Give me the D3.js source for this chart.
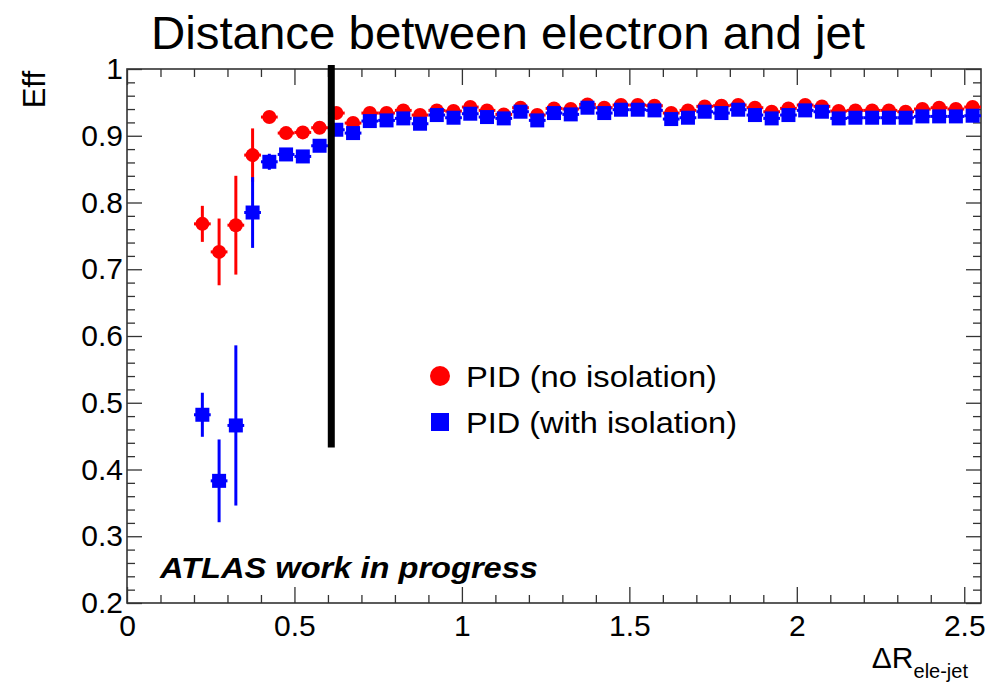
<!DOCTYPE html>
<html>
<head>
<meta charset="utf-8">
<script src="https://cdn.jsdelivr.net/npm/d3@7"></script>
<style>
  html, body { margin: 0; padding: 0; background: #fff; }
  svg { display: block; font-family: "Liberation Sans", Arial, Helvetica, sans-serif; }
</style>
</head>
<body>
<svg id="chart" width="986" height="685"></svg>
<script>
// Bin centres in ΔR(ele-jet)
const dR = [0.225, 0.275, 0.325, 0.375, 0.425, 0.475, 0.525, 0.575, 0.625, 0.675,
            0.725, 0.775, 0.825, 0.875, 0.925, 0.975, 1.025, 1.075, 1.125, 1.175,
            1.225, 1.275, 1.325, 1.375, 1.425, 1.475, 1.525, 1.575, 1.625, 1.675,
            1.725, 1.775, 1.825, 1.875, 1.925, 1.975, 2.025, 2.075, 2.125, 2.175,
            2.225, 2.275, 2.325, 2.375, 2.425, 2.475, 2.525];
const binHalfWidth = 0.025;

// PID efficiency without isolation
const effNoIso = [0.768, 0.726, 0.766, 0.871, 0.928, 0.904, 0.905, 0.912, 0.934, 0.919,
                  0.934, 0.934, 0.938, 0.931, 0.938, 0.937, 0.943, 0.938, 0.932, 0.942,
                  0.931, 0.941, 0.940, 0.947, 0.942, 0.946, 0.946, 0.945, 0.934, 0.938,
                  0.944, 0.945, 0.946, 0.942, 0.936, 0.941, 0.946, 0.944, 0.937, 0.938,
                  0.938, 0.938, 0.936, 0.940, 0.942, 0.940, 0.943];
const errNoIso = [0.027, 0.050, 0.074, 0.040, 0.008, 0.007, 0.007, 0.006, 0.006, 0.005,
                  0.005, 0.005, 0.004, 0.004, 0.004, 0.004, 0.004, 0.004, 0.004, 0.004,
                  0.004, 0.004, 0.004, 0.004, 0.004, 0.004, 0.004, 0.004, 0.004, 0.004,
                  0.004, 0.004, 0.004, 0.004, 0.004, 0.004, 0.004, 0.004, 0.004, 0.004,
                  0.004, 0.004, 0.004, 0.004, 0.004, 0.004, 0.004];

// PID efficiency with isolation
const effWithIso = [0.482, 0.383, 0.466, 0.785, 0.861, 0.872, 0.869, 0.885, 0.909, 0.904,
                    0.922, 0.923, 0.926, 0.918, 0.931, 0.927, 0.933, 0.928, 0.926, 0.936,
                    0.923, 0.934, 0.932, 0.942, 0.934, 0.939, 0.939, 0.938, 0.925, 0.927,
                    0.936, 0.934, 0.939, 0.931, 0.926, 0.931, 0.938, 0.936, 0.926, 0.927,
                    0.927, 0.927, 0.927, 0.929, 0.929, 0.929, 0.930];
const errWithIso = [0.033, 0.062, 0.120, 0.053, 0.012, 0.008, 0.008, 0.007, 0.006, 0.005,
                    0.005, 0.005, 0.005, 0.005, 0.004, 0.004, 0.004, 0.004, 0.004, 0.004,
                    0.004, 0.004, 0.004, 0.004, 0.004, 0.004, 0.004, 0.004, 0.004, 0.004,
                    0.004, 0.004, 0.004, 0.004, 0.004, 0.004, 0.004, 0.004, 0.004, 0.004,
                    0.004, 0.004, 0.004, 0.004, 0.004, 0.004, 0.004];

// Axis ticks
const xMajor = [0, 0.5, 1, 1.5, 2, 2.5];
const xMinor = [0.1, 0.2, 0.3, 0.4, 0.6, 0.7, 0.8, 0.9, 1.1, 1.2, 1.3, 1.4, 1.6, 1.7, 1.8, 1.9,
                2.1, 2.2, 2.3, 2.4];
const yMajor = [0.2, 0.3, 0.4, 0.5, 0.6, 0.7, 0.8, 0.9, 1];
const yMinor = [0.22, 0.24, 0.26, 0.28, 0.32, 0.34, 0.36, 0.38, 0.42, 0.44, 0.46, 0.48,
                0.52, 0.54, 0.56, 0.58, 0.62, 0.64, 0.66, 0.68, 0.72, 0.74, 0.76, 0.78,
                0.82, 0.84, 0.86, 0.88, 0.92, 0.94, 0.96, 0.98];

// Cut position marked on the plot
const cutDR = 0.61;
const cutRange = [1.006, 0.433];

const titleText = "Distance between electron and jet";
const legendLabels = ["PID (no isolation)", "PID (with isolation)"];

const svg = d3.select("#chart");
const L = 127, R = 981, T = 69, B = 603;

const x = d3.scaleLinear().domain([0, 2.55]).range([L, R]);
const y = d3.scaleLinear().domain([0.2, 1]).range([B, T]);

const tickFont = 30;
const frameColor = "#333";

// Frame
svg.append("rect")
  .attr("x", L).attr("y", T).attr("width", R - L).attr("height", B - T)
  .attr("fill", "none").attr("stroke", frameColor).attr("stroke-width", 1.6);

function styleAxis(g) {
  g.select(".domain").remove();
  g.selectAll("line").attr("stroke", frameColor).attr("stroke-width", 1.3);
  g.selectAll("text").attr("fill", "#000").style("font-size", tickFont + "px");
}

// Bottom axis (inward ticks)
svg.append("g").attr("transform", `translate(0,${B})`)
  .call(d3.axisBottom(x).tickValues(xMajor).tickSize(-16).tickPadding(10)
        .tickFormat(d => d3.format("")(d)))
  .call(styleAxis)
  .call(g => g.selectAll("text").attr("dy", "0.78em"));
svg.append("g").attr("transform", `translate(0,${B})`)
  .call(d3.axisBottom(x).tickValues(xMinor).tickSize(-8).tickFormat(""))
  .call(styleAxis);

// Top axis ticks
svg.append("g").attr("transform", `translate(0,${T})`)
  .call(d3.axisTop(x).tickValues(xMajor).tickSize(-16).tickFormat(""))
  .call(styleAxis);
svg.append("g").attr("transform", `translate(0,${T})`)
  .call(d3.axisTop(x).tickValues(xMinor).tickSize(-8).tickFormat(""))
  .call(styleAxis);

// Left axis
svg.append("g").attr("transform", `translate(${L},0)`)
  .call(d3.axisLeft(y).tickValues(yMajor).tickSize(-15).tickPadding(4)
        .tickFormat(d => d3.format("")(d)))
  .call(styleAxis);
svg.append("g").attr("transform", `translate(${L},0)`)
  .call(d3.axisLeft(y).tickValues(yMinor).tickSize(-8).tickFormat(""))
  .call(styleAxis);

// Right axis ticks
svg.append("g").attr("transform", `translate(${R},0)`)
  .call(d3.axisRight(y).tickValues(yMajor).tickSize(-15).tickFormat(""))
  .call(styleAxis);
svg.append("g").attr("transform", `translate(${R},0)`)
  .call(d3.axisRight(y).tickValues(yMinor).tickSize(-8).tickFormat(""))
  .call(styleAxis);

// Data series
function drawSeries(vals, errs, color, shape) {
  const data = dR.map((d, i) => ({ x: d, v: vals[i], e: errs[i] }));
  const g = svg.append("g");
  g.selectAll("line.ey").data(data).join("line")
    .attr("x1", d => x(d.x)).attr("x2", d => x(d.x))
    .attr("y1", d => y(d.v + d.e)).attr("y2", d => y(d.v - d.e))
    .attr("stroke", color).attr("stroke-width", 3);
  g.selectAll("line.ex").data(data).join("line")
    .attr("x1", d => x(d.x - binHalfWidth)).attr("x2", d => x(d.x + binHalfWidth))
    .attr("y1", d => y(d.v)).attr("y2", d => y(d.v))
    .attr("stroke", color).attr("stroke-width", 3);
  if (shape === "circle") {
    g.selectAll("circle").data(data).join("circle")
      .attr("cx", d => x(d.x)).attr("cy", d => y(d.v)).attr("r", 7)
      .attr("fill", color);
  } else {
    const s = 14;
    g.selectAll("rect").data(data).join("rect")
      .attr("x", d => x(d.x) - s / 2).attr("y", d => y(d.v) - s / 2)
      .attr("width", s).attr("height", s)
      .attr("fill", color);
  }
}
drawSeries(effNoIso, errNoIso, "#ff0000", "circle");
drawSeries(effWithIso, errWithIso, "#0000ff", "square");

// Cut line
svg.append("line")
  .attr("x1", x(cutDR)).attr("x2", x(cutDR))
  .attr("y1", y(cutRange[0])).attr("y2", y(cutRange[1]))
  .attr("stroke", "#000").attr("stroke-width", 7);

// Legend
const legX = 440;
svg.append("circle").attr("cx", legX).attr("cy", 376).attr("r", 10).attr("fill", "#ff0000");
svg.append("rect").attr("x", legX - 9).attr("y", 413).attr("width", 18).attr("height", 18).attr("fill", "#0000ff");
svg.append("text").attr("x", 466).attr("y", 387).style("font-size", "30px")
  .attr("textLength", 251).attr("lengthAdjust", "spacingAndGlyphs").text(legendLabels[0]);
svg.append("text").attr("x", 466).attr("y", 433).style("font-size", "30px")
  .attr("textLength", 271).attr("lengthAdjust", "spacingAndGlyphs").text(legendLabels[1]);

// ATLAS label
svg.append("text").attr("x", 160).attr("y", 578)
  .style("font-size", "29px").style("font-weight", "bold").style("font-style", "italic")
  .attr("textLength", 378).attr("lengthAdjust", "spacingAndGlyphs")
  .text("ATLAS work in progress");

// Title
svg.append("text").attr("x", 151).attr("y", 49)
  .style("font-size", "47px")
  .attr("textLength", 714).attr("lengthAdjust", "spacingAndGlyphs")
  .text(titleText);

// Axis titles
svg.append("text").attr("transform", "translate(45,71) rotate(-90)")
  .attr("text-anchor", "end").style("font-size", "31px").text("Eff");

const xt = svg.append("text").attr("x", 968).attr("y", 668).attr("text-anchor", "end")
  .style("font-size", "30px");
xt.append("tspan").text("ΔR");
xt.append("tspan").attr("dy", 10).style("font-size", "20px").text("ele-jet");
</script>
</body>
</html>
